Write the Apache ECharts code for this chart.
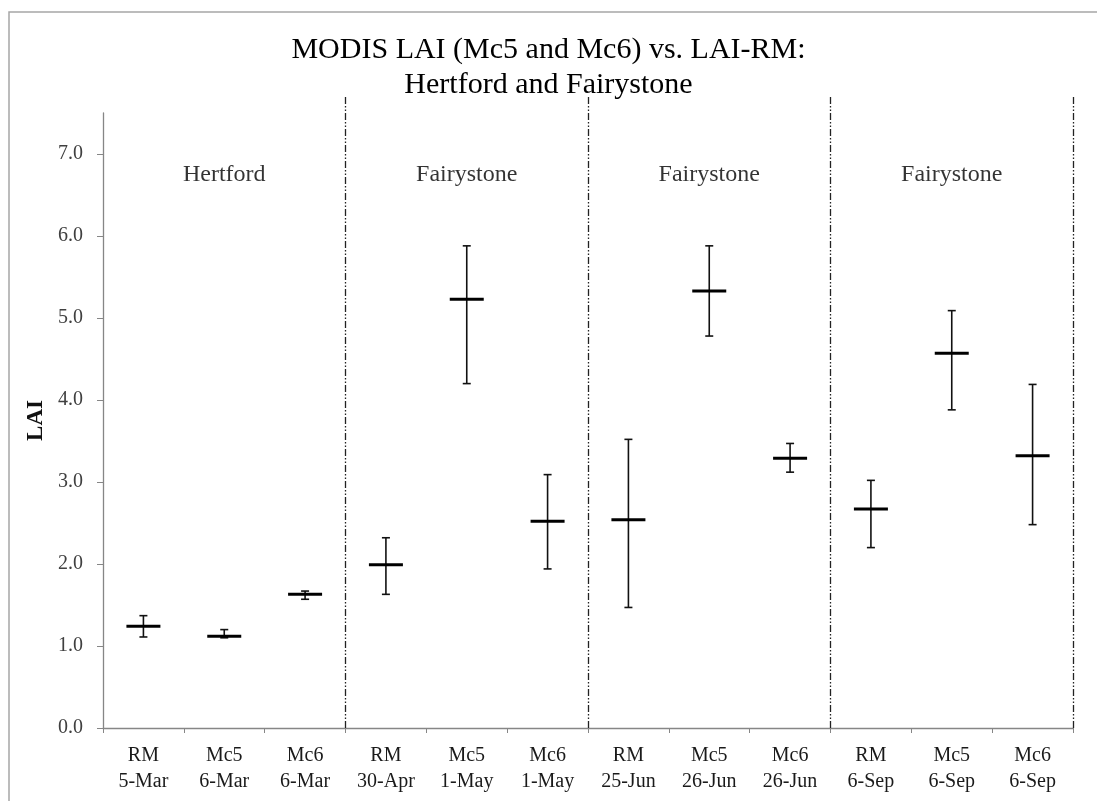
<!DOCTYPE html>
<html lang="en">
<head>
    <meta charset="UTF-8">
    <title>MODIS LAI vs LAI-RM</title>
    <script type="text/javascript" src="https://cdn.jsdelivr.net/npm/echarts@6/dist/echarts.min.js"></script>
    <style>
        html, body { margin: 0; padding: 0; background: #fff; }
    </style>
</head>
<body>
<div id="chart" style="width: 1097px;height:801px;"></div>
<script>
    // categories
    var products = ['RM', 'Mc5', 'Mc6', 'RM', 'Mc5', 'Mc6', 'RM', 'Mc5', 'Mc6', 'RM', 'Mc5', 'Mc6'];
    var dates = ['5-Mar', '6-Mar', '6-Mar', '30-Apr', '1-May', '1-May', '25-Jun', '26-Jun', '26-Jun', '6-Sep', '6-Sep', '6-Sep'];
    // LAI: mean, lower and upper end of each bar
    var means = [1.24, 1.12, 1.63, 1.99, 5.23, 2.52, 2.54, 5.33, 3.29, 2.67, 4.57, 3.32];
    var lows  = [1.11, 1.10, 1.57, 1.63, 4.20, 1.94, 1.47, 4.78, 3.12, 2.20, 3.88, 2.48];
    var highs = [1.37, 1.20, 1.67, 2.32, 5.88, 3.09, 3.52, 5.88, 3.47, 3.02, 5.09, 4.19];
    // sites, 3 categories each
    var sites = ['Hertford', 'Fairystone', 'Fairystone', 'Fairystone'];
    var yTicks = [0, 1, 2, 3, 4, 5, 6, 7];

    var serif = '"Liberation Serif", "Times New Roman", serif';
    var axisGray = '#868686';

    var xLabels = products.map(function (p, i) { return p + '\n' + dates[i]; });
    var barData = means.map(function (m, i) { return [i, m, lows[i], highs[i]]; });
    var siteData = sites.map(function (s, i) { return { name: s, value: [i * 3 + 1, 6.75] }; });
    var sepData = sites.map(function (s, i) { return { xAxis: (i + 1) * 3 }; });

    // error bar: whisker with caps plus a thick mean line
    function renderBar(params, api) {
        var i = api.value(0);
        var mid = api.coord([i, api.value(1)]);
        var lo = api.coord([i, api.value(2)]);
        var hi = api.coord([i, api.value(3)]);
        var cap = 4, half = 17;
        var st = { stroke: '#111', lineWidth: 1.6 };
        return {
            type: 'group',
            children: [
                { type: 'line', shape: { x1: lo[0], y1: lo[1], x2: hi[0], y2: hi[1] }, style: st },
                { type: 'line', shape: { x1: lo[0] - cap, y1: lo[1], x2: lo[0] + cap, y2: lo[1] }, style: st },
                { type: 'line', shape: { x1: hi[0] - cap, y1: hi[1], x2: hi[0] + cap, y2: hi[1] }, style: st },
                { type: 'line', shape: { x1: mid[0] - half, y1: mid[1], x2: mid[0] + half, y2: mid[1] },
                  style: { stroke: '#000', lineWidth: 3 } }
            ]
        };
    }

    var option = {
        animation: false,
        backgroundColor: '#fff',
        title: {
            text: 'MODIS LAI (Mc5 and Mc6) vs. LAI-RM:\nHertford and Fairystone',
            left: 'center',
            top: 28,
            textStyle: {
                fontFamily: serif,
                fontSize: 30,
                fontWeight: 'normal',
                color: '#000',
                lineHeight: 35
            }
        },
        graphic: [{
            type: 'rect',
            shape: { x: 9, y: 12, width: 1200, height: 1000 },
            style: { fill: 'none', stroke: '#a6a6a6', lineWidth: 1.5 },
            silent: true
        }],
        grid: [
            { left: 103, right: 24, top: 113, bottom: 73 },
            { left: 103, right: 24, top: 96, bottom: 73 }
        ],
        xAxis: [{
            type: 'category',
            gridIndex: 0,
            data: xLabels,
            axisLine: { lineStyle: { color: axisGray, width: 1.3 } },
            axisTick: { show: true, length: 5, lineStyle: { color: axisGray } },
            axisLabel: {
                fontFamily: serif,
                fontSize: 20,
                lineHeight: 26,
                color: '#1a1a1a',
                margin: 15,
                interval: 0
            }
        }, {
            type: 'value',
            gridIndex: 1,
            min: 0,
            max: 12,
            show: false
        }],
        yAxis: [{
            type: 'value',
            gridIndex: 0,
            min: 0,
            max: 7.5,
            interval: 1,
            name: 'LAI',
            nameLocation: 'middle',
            nameRotate: 90,
            nameGap: 54,
            nameTextStyle: {
                fontFamily: serif,
                fontSize: 23,
                fontWeight: 'bold',
                color: '#111'
            },
            axisLine: { show: true, lineStyle: { color: axisGray, width: 1.3 } },
            axisTick: { show: true, length: 6, customValues: yTicks, lineStyle: { color: axisGray } },
            splitLine: { show: false },
            axisLabel: {
                fontFamily: serif,
                fontSize: 20,
                color: '#404040',
                margin: 20,
                customValues: yTicks,
                formatter: function (v) { return v.toFixed(1); }
            }
        }, {
            type: 'value',
            gridIndex: 1,
            min: 0,
            max: 1,
            show: false
        }],
        series: [{
            type: 'custom',
            xAxisIndex: 0,
            yAxisIndex: 0,
            renderItem: renderBar,
            data: barData,
            z: 5
        }, {
            type: 'scatter',
            xAxisIndex: 0,
            yAxisIndex: 0,
            symbolSize: 0,
            data: siteData,
            label: {
                show: true,
                position: 'inside',
                formatter: '{b}',
                fontFamily: serif,
                fontSize: 24,
                color: '#000'
            }
        }, {
            type: 'line',
            xAxisIndex: 1,
            yAxisIndex: 1,
            data: [],
            markLine: {
                silent: true,
                symbol: ['none', 'none'],
                label: { show: false },
                lineStyle: { color: '#222', width: 1.3, type: [7, 2, 1.5, 2, 1.5, 2] },
                data: sepData
            }
        }]
    };

    var myChart = echarts.init(document.getElementById('chart'));
    myChart.setOption(option);
</script>
</body>
</html>
